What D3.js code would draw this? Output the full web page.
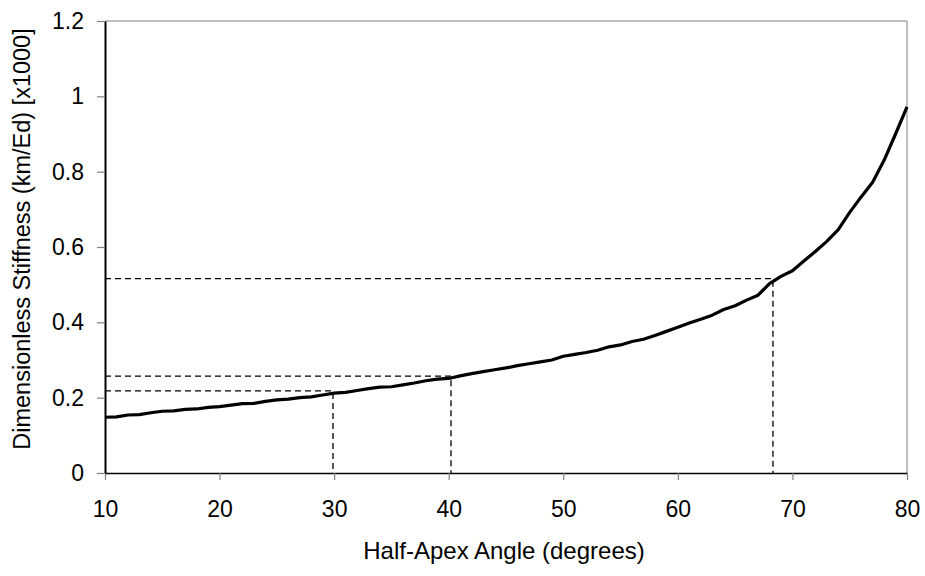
<!DOCTYPE html>
<html><head><meta charset="utf-8">
<script src="https://cdn.jsdelivr.net/npm/d3@7"></script>
<style>body{margin:0;background:#fff}svg{display:block}text{font-family:"Liberation Sans",Arial,sans-serif}</style>
</head><body>
<svg id="c" width="925" height="576"></svg>
<script>
const angles = d3.range(10, 81);
const stiffness = [0.148,0.149,0.154,0.155,0.160,0.164,0.165,0.169,0.170,0.174,
0.176,0.180,0.184,0.185,0.190,0.194,0.196,0.200,0.202,0.207,
0.212,0.214,0.219,0.224,0.228,0.229,0.234,0.239,0.245,0.249,
0.251,0.258,0.264,0.269,0.274,0.279,0.285,0.290,0.295,0.300,
0.310,0.315,0.320,0.326,0.335,0.340,0.349,0.355,0.365,0.376,
0.387,0.398,0.408,0.419,0.434,0.444,0.459,0.472,0.503,0.522,
0.537,0.563,0.588,0.615,0.646,0.692,0.733,0.772,0.830,0.900,0.972];
const refAngles = [29.9, 40.2, 68.3];
const refValues = [0.218, 0.257, 0.516];
const xTicks = [10,20,30,40,50,60,70,80];
const yTicks = [0,0.2,0.4,0.6,0.8,1,1.2];
const xTitle = "Half-Apex Angle (degrees)";
const yTitle = "Dimensionless Stiffness (km/Ed) [x1000]";

const FS = 23;
const svg = d3.select("#c");
const L=105, R=907, T=21, B=473;
const x = d3.scaleLinear().domain([10,80]).range([L,R]);
const y = d3.scaleLinear().domain([0,1.2]).range([B,T]);

svg.append("path").attr("d",`M${L},${T}H${R}V${B}`).attr("fill","none").attr("stroke","#808080").attr("stroke-width",1);

refAngles.forEach((a,i)=>{
  const v = refValues[i];
  svg.append("path").attr("d",`M${L},${y(v)}H${x(a)}V${B}`)
    .attr("fill","none").attr("stroke","#000").attr("stroke-width",1.3).attr("stroke-dasharray","6,4");
});

const data = angles.map((a,i)=>[a,stiffness[i]]);
svg.append("path").datum(data).attr("d", d3.line().x(d=>x(d[0])).y(d=>y(d[1])))
  .attr("fill","none").attr("stroke","#000").attr("stroke-width",3.2).attr("stroke-linejoin","round");

const xAxis = d3.axisBottom(x).tickValues(xTicks).tickSize(7).tickSizeOuter(0).tickPadding(21).tickFormat(d3.format("d"));
const gx = svg.append("g").attr("transform",`translate(0,${B})`).call(xAxis);
gx.select(".domain").attr("stroke","#000").attr("stroke-width",1.5);
gx.selectAll(".tick line").attr("stroke","#808080").attr("stroke-width",1.2);
gx.selectAll("text").attr("font-size",FS).attr("fill","#000").attr("font-family","Liberation Sans, Arial, sans-serif");

const yAxis = d3.axisLeft(y).tickValues(yTicks).tickSize(8).tickSizeOuter(0).tickPadding(13).tickFormat(d=>d===0?"0":d3.format("~g")(d));
const gy = svg.append("g").attr("transform",`translate(${L},0)`).call(yAxis);
gy.select(".domain").attr("stroke","#000").attr("stroke-width",2);
gy.selectAll(".tick line").attr("stroke","#808080").attr("stroke-width",1.2);
gy.selectAll("text").attr("font-size",FS).attr("fill","#000").attr("font-family","Liberation Sans, Arial, sans-serif");

svg.append("text").attr("x",504).attr("y",559).attr("text-anchor","middle").attr("font-size",24).text(xTitle);
svg.append("text").attr("transform",`translate(30,239) rotate(-90)`).attr("text-anchor","middle").attr("font-size",23.5).text(yTitle);
</script>
</body></html>
